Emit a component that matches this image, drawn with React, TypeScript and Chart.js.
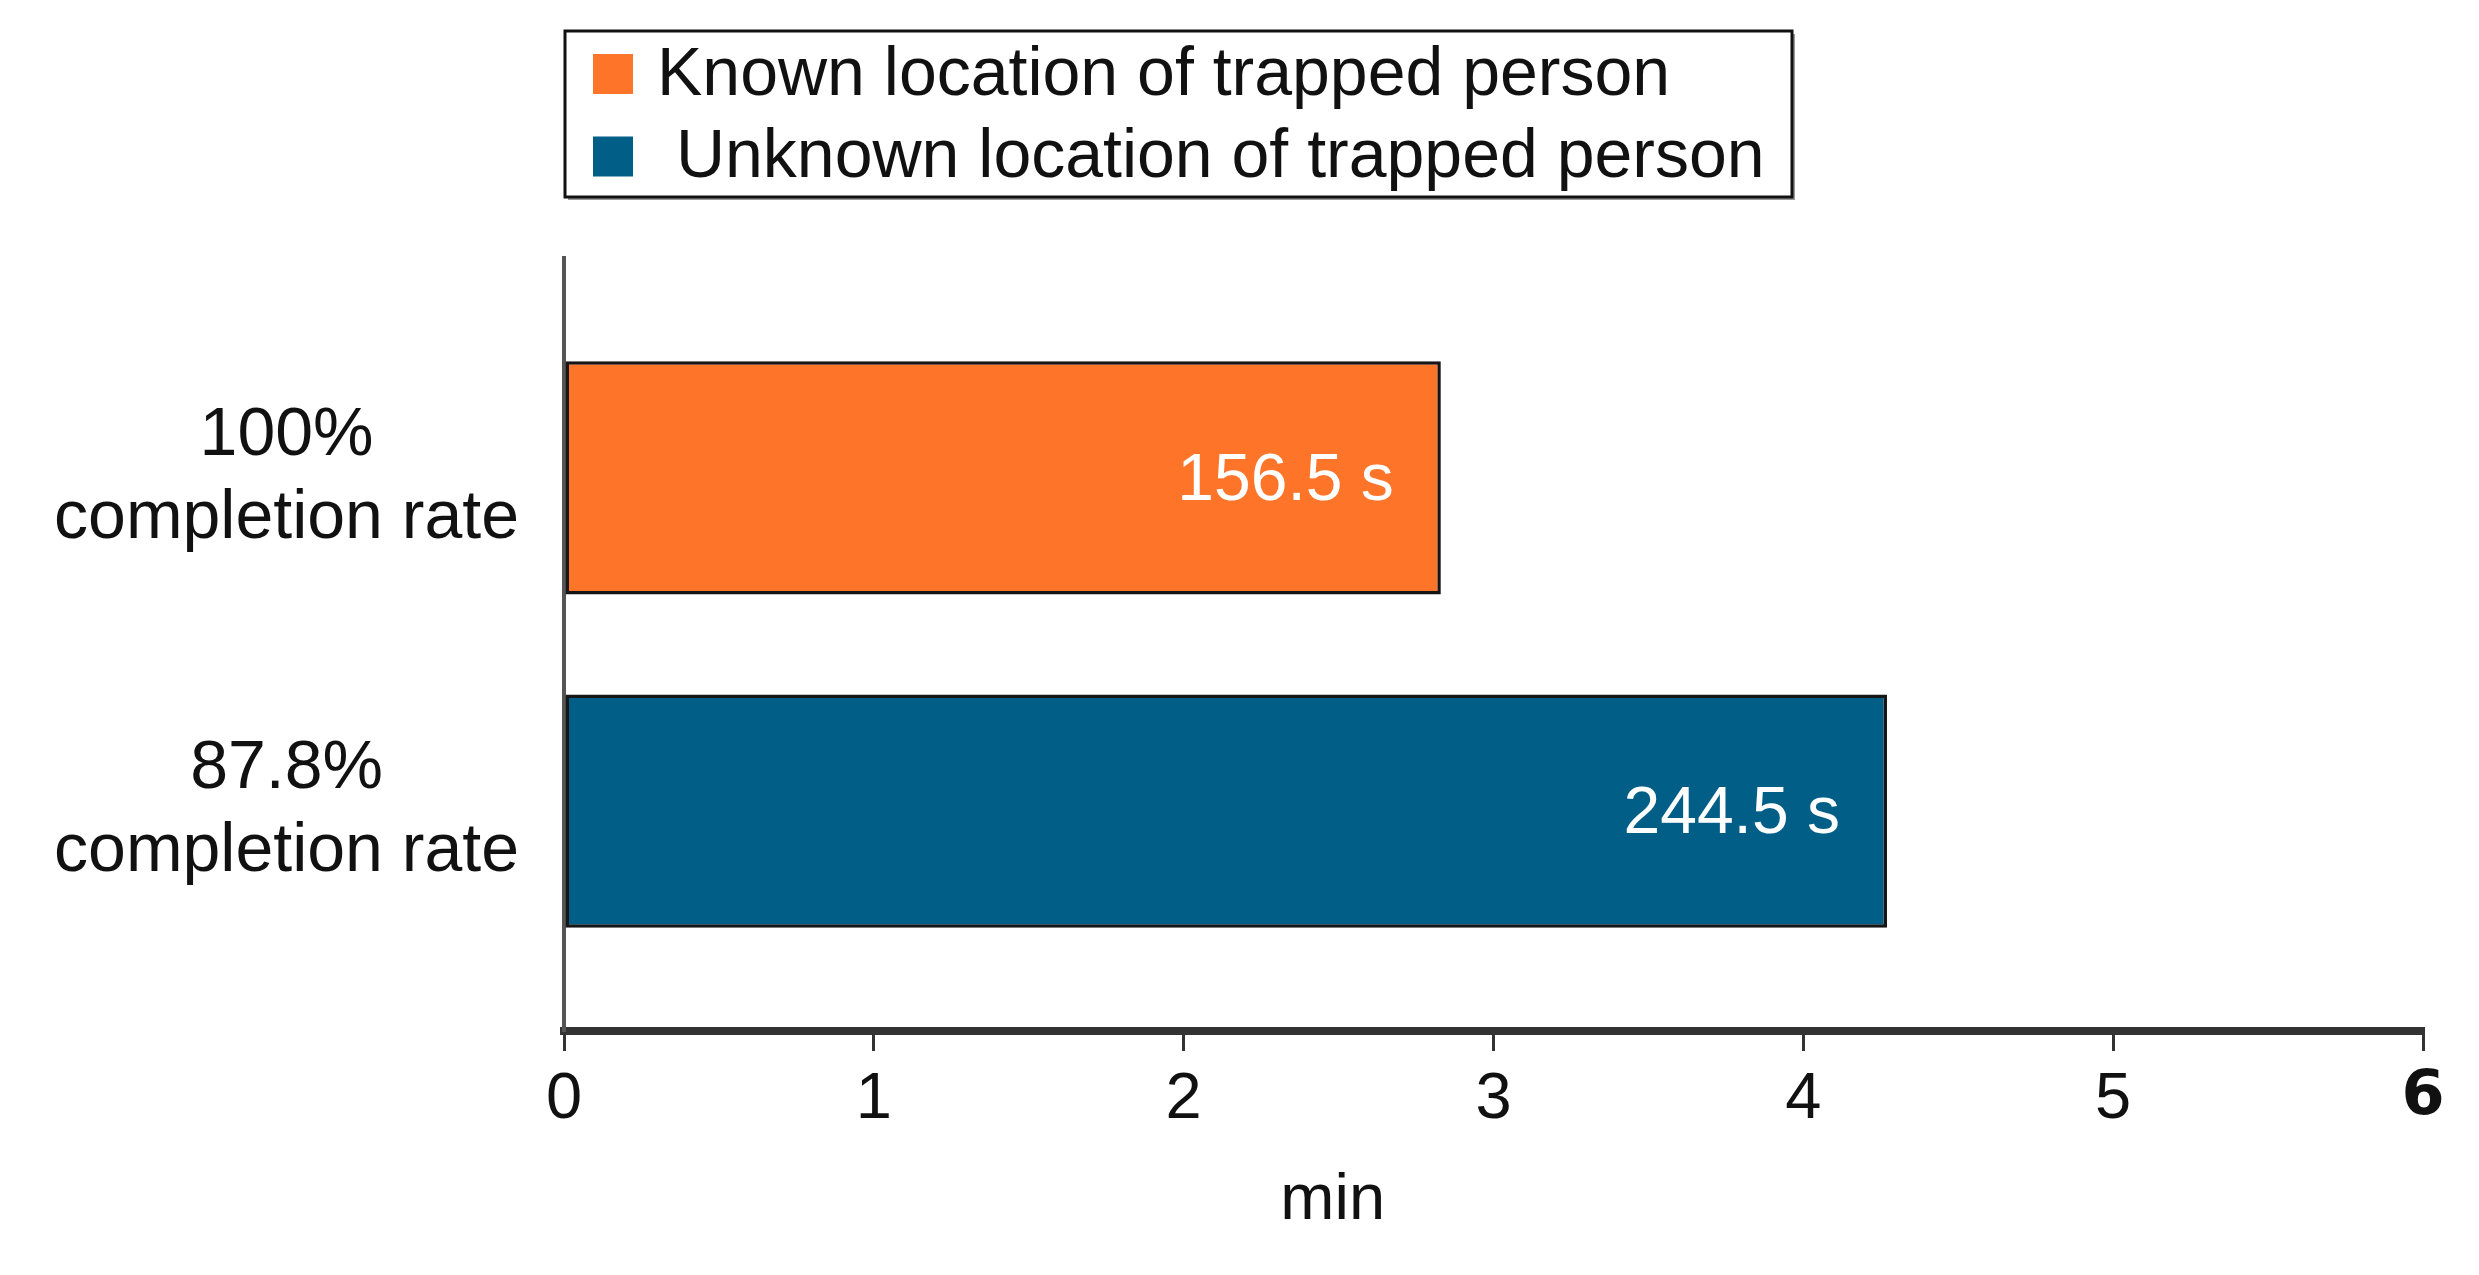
import React, { useEffect, useRef } from "react";
import { Chart, registerables } from "chart.js";

Chart.register(...registerables);

// ---- data ----
const categories: string[][] = [
  ["100%", "completion rate"],
  ["87.8%", "completion rate"],
];
const seriesLabels = [
  "Known location of trapped person",
  " Unknown location of trapped person",
];
const durationsMin = [2.83, 4.27];
const valueLabels = ["156.5 s", "244.5 s"];
const xTicks = [0, 1, 2, 3, 4, 5, 6];
const xTitle = "min";
const seriesColors = ["#FE7429", "#015F87"];

const FONT = "'Liberation Sans', Arial, sans-serif";

const legendPlugin = {
  id: "boxLegend",
  afterDraw(chart: any) {
    const ctx = chart.ctx;
    const left = chart.chartArea.left + 1;
    const top = 31;
    const w = 1227;
    const h = 166;
    ctx.save();
    ctx.fillStyle = "#9a9a9a";
    ctx.fillRect(left + 3, top + 3, w, h);
    ctx.fillStyle = "#ffffff";
    ctx.fillRect(left, top, w, h);
    ctx.lineWidth = 3;
    ctx.strokeStyle = "#111";
    ctx.strokeRect(left, top, w, h);
    const rows = [74, 156.5];
    chart.data.datasets.forEach((ds: any, i: number) => {
      const cy = rows[i];
      ctx.fillStyle = ds.backgroundColor;
      ctx.fillRect(left + 28, cy - 20, 40, 40);
      ctx.fillStyle = "#111";
      ctx.font = `68px ${FONT}`;
      ctx.textAlign = "left";
      ctx.textBaseline = "middle";
      ctx.fillText(ds.label, left + 92, cy + 2);
    });
    ctx.restore();
  },
};

const valueLabelPlugin = {
  id: "valueLabels",
  afterDatasetsDraw(chart: any) {
    const ctx = chart.ctx;
    ctx.save();
    ctx.font = `66px ${FONT}`;
    ctx.fillStyle = "#ffffff";
    ctx.textAlign = "right";
    ctx.textBaseline = "middle";
    chart.data.datasets.forEach((_ds: any, i: number) => {
      const meta = chart.getDatasetMeta(i);
      meta.data.forEach((el: any) => {
        ctx.fillText(valueLabels[i], el.x - 47, el.y + 4);
      });
    });
    ctx.restore();
  },
};

const axisTitlePlugin = {
  id: "axisTitle",
  afterDraw(chart: any) {
    const ctx = chart.ctx;
    const { left, right, bottom } = chart.chartArea;
    ctx.save();
    ctx.font = `65px ${FONT}`;
    ctx.fillStyle = "#111";
    ctx.textAlign = "center";
    ctx.textBaseline = "middle";
    ctx.fillText(xTitle, left + (right - left) * 0.4135, bottom + 170);
    ctx.restore();
  },
};

export default function App() {
  const canvasRef = useRef<HTMLCanvasElement | null>(null);

  useEffect(() => {
    if (!canvasRef.current) return;
    const chart = new Chart(canvasRef.current, {
      type: "bar",
      data: {
        datasets: seriesLabels.map((label, i) => ({
          label,
          data: [{ x: durationsMin[i], y: i }],
          backgroundColor: seriesColors[i],
          borderColor: "#161616",
          borderWidth: 3.5,
          borderSkipped: false,
          grouped: false,
          barPercentage: 0.7,
          categoryPercentage: 1,
        })),
      },
      options: {
        indexAxis: "y",
        responsive: false,
        animation: false,
        devicePixelRatio: 1,
        layout: { padding: { top: 258, right: 56, left: 0, bottom: 0 } },
        plugins: {
          legend: { display: false },
          tooltip: { enabled: false },
          title: { display: false },
        },
        scales: {
          x: {
            type: "linear",
            position: "bottom",
            min: 0,
            max: 6,
            offset: false,
            afterBuildTicks: (s: any) => {
              s.ticks = xTicks.map((v) => ({ value: v }));
            },
            afterFit: (s: any) => {
              s.height = 244;
            },
            grid: {
              display: true,
              offset: false,
              drawOnChartArea: false,
              drawTicks: true,
              tickLength: 20,
              color: "#333",
              lineWidth: 3,
            },
            border: { display: true, color: "#333", width: 8 },
            ticks: {
              padding: 10,
              color: "#111",
              maxRotation: 0,
              font: (c: any) =>
                c.tick && c.tick.value === 6
                  ? { family: "'DejaVu Sans', sans-serif", size: 62, weight: "bold" }
                  : { family: FONT, size: 65 },
              callback: (v: any) => String(v),
            },
          },
          y: {
            type: "linear",
            position: "left",
            reverse: true,
            offset: false,
            min: -0.66,
            max: 1.66,
            afterBuildTicks: (s: any) => {
              s.ticks = categories.map((_, i) => ({ value: i }));
            },
            afterFit: (s: any) => {
              s.width = 564;
            },
            grid: { display: false, offset: false },
            border: { display: true, color: "#555", width: 4 },
            ticks: {
              padding: 37,
              crossAlign: "center",
              color: "#111",
              font: { family: FONT, size: 68, lineHeight: 1.22 },
              callback: (v: any) => categories[Math.round(Number(v))] ?? "",
            },
          },
        },
      },
      plugins: [valueLabelPlugin, axisTitlePlugin, legendPlugin],
    } as any);
    return () => chart.destroy();
  }, []);

  return (
    <div style={{ position: "fixed", left: 0, top: 0, width: 2479, height: 1275, background: "#fff" }}>
      <canvas ref={canvasRef} width={2479} height={1275} style={{ display: "block" }} />
    </div>
  );
}
